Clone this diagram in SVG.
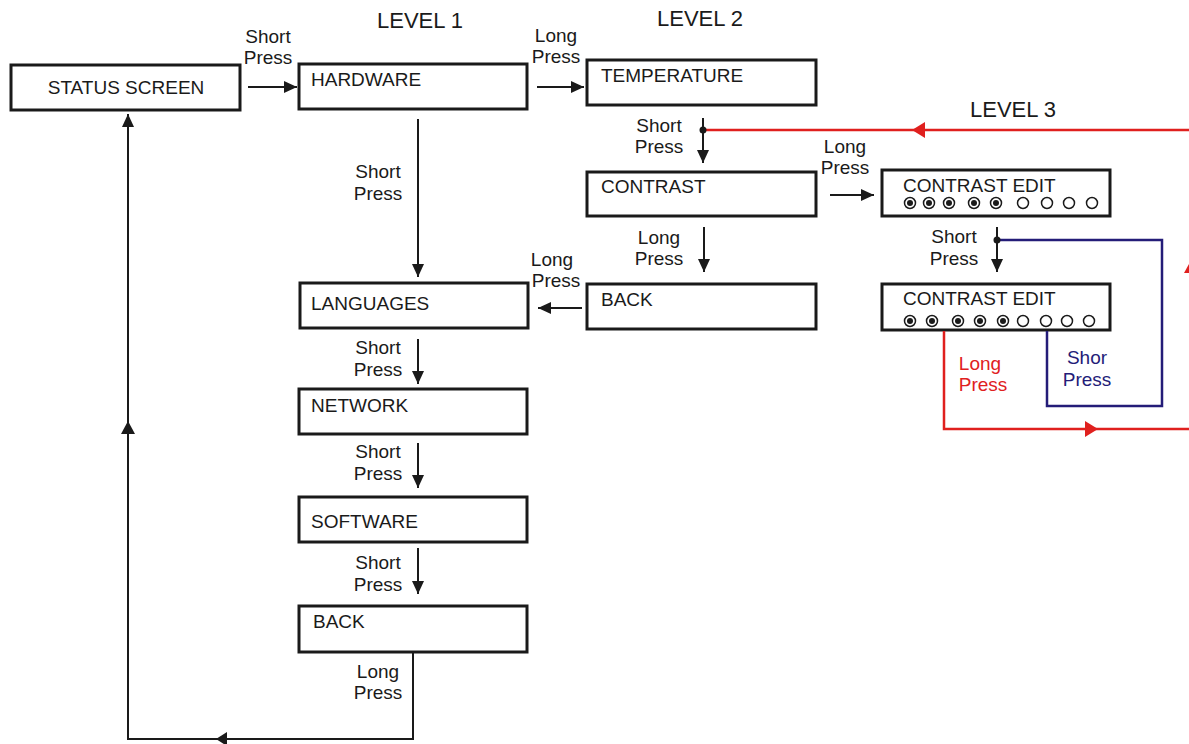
<svg xmlns="http://www.w3.org/2000/svg" width="1189" height="744" viewBox="0 0 1189 744">
<style>
.box{fill:#fff;stroke:#1a1a1a;stroke-width:3}
.t{font-family:"Liberation Sans",Arial,sans-serif;font-size:19px;fill:#1a1a1a}
.lv{font-family:"Liberation Sans",Arial,sans-serif;font-size:22px;fill:#1a1a1a;text-anchor:middle}
.m{text-anchor:middle}
.c{fill:none;stroke:#1a1a1a;stroke-width:2}
.red{fill:none;stroke:#e0201e;stroke-width:2.5}
.blue{fill:none;stroke:#241c78;stroke-width:2.5}
.rt{fill:#e0201e}
.bt{fill:#241c78}
.ah{fill:#1a1a1a}
.dot{fill:#fff;stroke:#1a1a1a;stroke-width:1.5}
.dc{fill:#1a1a1a}
</style>
<defs>
<marker id="arr" markerUnits="userSpaceOnUse" markerWidth="14" markerHeight="14" viewBox="0 0 14 14" refX="13" refY="7" orient="auto">
<path d="M0,1 L13,7 L0,13 z" fill="#1a1a1a"/>
</marker>
</defs>

<text class="lv" x="420" y="28">LEVEL 1</text>
<text class="lv" x="700" y="26">LEVEL 2</text>
<text class="lv" x="1013" y="117">LEVEL 3</text>

<g id="status"><rect class="box" x="11" y="65" width="229" height="45"/><text class="t m" x="126" y="94">STATUS SCREEN</text></g>
<g id="hardware"><rect class="box" x="299" y="64" width="228" height="45"/><text class="t" x="311" y="86">HARDWARE</text></g>
<g id="temperature"><rect class="box" x="587" y="60" width="229" height="45"/><text class="t" x="601" y="82">TEMPERATURE</text></g>
<g id="contrast"><rect class="box" x="587" y="172" width="229" height="44"/><text class="t" x="601" y="193">CONTRAST</text></g>
<g id="back2"><rect class="box" x="587" y="284" width="229" height="45"/><text class="t" x="601" y="306">BACK</text></g>
<g id="languages"><rect class="box" x="300" y="283" width="228" height="45"/><text class="t" x="311" y="310">LANGUAGES</text></g>
<g id="network"><rect class="box" x="299" y="389" width="228" height="45"/><text class="t" x="311" y="412">NETWORK</text></g>
<g id="software"><rect class="box" x="299" y="497" width="228" height="45"/><text class="t" x="311" y="528">SOFTWARE</text></g>
<g id="back1"><rect class="box" x="299" y="606" width="228" height="46"/><text class="t" x="313" y="628">BACK</text></g>

<g id="contrastedit1">
<rect class="box" x="882" y="170" width="228" height="46"/>
<text class="t" x="903" y="192">CONTRAST EDIT</text>
<circle class="dot" cx="910" cy="203" r="5.5"/><circle class="dc" cx="910" cy="203" r="3"/>
<circle class="dot" cx="929" cy="203" r="5.5"/><circle class="dc" cx="929" cy="203" r="3"/>
<circle class="dot" cx="949" cy="203" r="5.5"/><circle class="dc" cx="949" cy="203" r="3"/>
<circle class="dot" cx="974" cy="203" r="5.5"/><circle class="dc" cx="974" cy="203" r="3"/>
<circle class="dot" cx="996" cy="203" r="5.5"/><circle class="dc" cx="996" cy="203" r="3"/>
<circle class="dot" cx="1023" cy="203" r="5.5"/>
<circle class="dot" cx="1047" cy="203" r="5.5"/>
<circle class="dot" cx="1069" cy="203" r="5.5"/>
<circle class="dot" cx="1092" cy="203" r="5.5"/>
</g>
<g id="contrastedit2">
<rect class="box" x="882" y="284" width="228" height="46"/>
<text class="t" x="903" y="305">CONTRAST EDIT</text>
<circle class="dot" cx="910" cy="321" r="5.5"/><circle class="dc" cx="910" cy="321" r="3"/>
<circle class="dot" cx="932" cy="321" r="5.5"/><circle class="dc" cx="932" cy="321" r="3"/>
<circle class="dot" cx="958" cy="321" r="5.5"/><circle class="dc" cx="958" cy="321" r="3"/>
<circle class="dot" cx="980" cy="321" r="5.5"/><circle class="dc" cx="980" cy="321" r="3"/>
<circle class="dot" cx="1003" cy="321" r="5.5"/><circle class="dc" cx="1003" cy="321" r="3"/>
<circle class="dot" cx="1023" cy="321" r="5.5"/>
<circle class="dot" cx="1046" cy="321" r="5.5"/>
<circle class="dot" cx="1067" cy="321" r="5.5"/>
<circle class="dot" cx="1089" cy="321" r="5.5"/>
</g>

<g id="connectors">
<path class="c" d="M248,87 H297" marker-end="url(#arr)"/>
<path class="c" d="M537,87 H584" marker-end="url(#arr)"/>
<path class="c" d="M703,118 V163" marker-end="url(#arr)"/>
<path class="c" d="M830,195 H874" marker-end="url(#arr)"/>
<path class="c" d="M997,227 V272" marker-end="url(#arr)"/>
<path class="c" d="M704,227 V272" marker-end="url(#arr)"/>
<path class="c" d="M582,308 H538" marker-end="url(#arr)"/>
<path class="c" d="M418,119 V277" marker-end="url(#arr)"/>
<path class="c" d="M418,339 V384" marker-end="url(#arr)"/>
<path class="c" d="M418,443 V488" marker-end="url(#arr)"/>
<path class="c" d="M418,548 V594" marker-end="url(#arr)"/>
<path class="c" d="M413,652 V739 H128 V114" marker-end="url(#arr)"/>
<polygon class="ah" points="216,739 227,732 227,746"/>
<polygon class="ah" points="128,421 121,434 135,434"/>

<path class="red" d="M1189,130 H703"/>
<polygon class="rt" points="912,130 925,122 925,138"/>
<circle class="dc" cx="703" cy="130" r="3.5"/>

<path class="blue" d="M997,240 H1162 V406 H1047 V331"/>
<circle class="dc" cx="997" cy="240" r="3.5"/>

<path class="red" d="M944,331 V429 H1189"/>
<polygon class="rt" points="1098,429 1085,421 1085,437"/>
<polygon class="rt" points="1184,273 1189,264 1189,273"/>

<text class="t m" x="268" y="43">Short</text><text class="t m" x="268" y="64">Press</text>
<text class="t m" x="556" y="42">Long</text><text class="t m" x="556" y="63">Press</text>
<text class="t m" x="659" y="132">Short</text><text class="t m" x="659" y="153">Press</text>
<text class="t m" x="845" y="153">Long</text><text class="t m" x="845" y="174">Press</text>
<text class="t m" x="954" y="243">Short</text><text class="t m" x="954" y="265">Press</text>
<text class="t m" x="659" y="244">Long</text><text class="t m" x="659" y="265">Press</text>
<text class="t m" x="552" y="266">Long</text><text class="t m" x="556" y="287">Press</text>
<text class="t m" x="378" y="178">Short</text><text class="t m" x="378" y="200">Press</text>
<text class="t m" x="378" y="354">Short</text><text class="t m" x="378" y="376">Press</text>
<text class="t m" x="378" y="458">Short</text><text class="t m" x="378" y="480">Press</text>
<text class="t m" x="378" y="569">Short</text><text class="t m" x="378" y="591">Press</text>
<text class="t m" x="378" y="678">Long</text><text class="t m" x="378" y="699">Press</text>
<text class="t m rt" x="980" y="370">Long</text><text class="t m rt" x="983" y="391">Press</text>
<text class="t m bt" x="1087" y="364">Shor</text><text class="t m bt" x="1087" y="386">Press</text>
</g>
</svg>
